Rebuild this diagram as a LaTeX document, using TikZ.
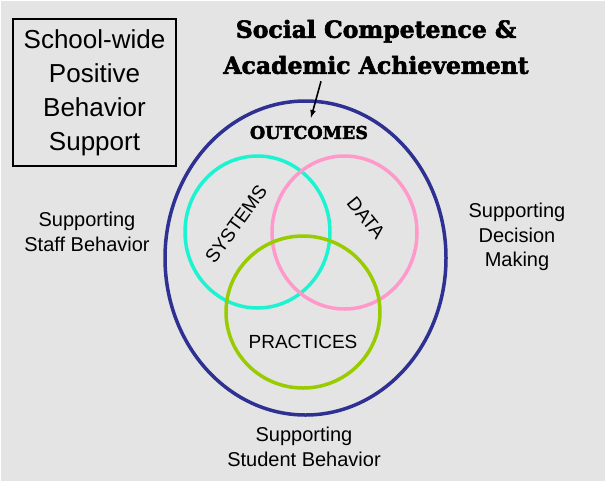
\documentclass[tikz,border=0pt]{standalone}
\usepackage{fontspec}
\setmainfont{Liberation Sans}
\newfontfamily\headfont{DejaVu Serif}[BoldFeatures={FakeBold=2.5}]
\usepackage{xcolor}
\usetikzlibrary{shapes.geometric}
\usetikzlibrary{arrows}

\definecolor{slate}{HTML}{E4E4E4}
\definecolor{navyring}{HTML}{2E3192}
\definecolor{tealring}{HTML}{1CF3D0}
\definecolor{pinkring}{HTML}{FF99CC}
\definecolor{limering}{HTML}{99CC00}

\begin{document}
\begin{tikzpicture} [
    x=1pt, y=-1pt,
    ring/.style    = { ellipse, draw, line width=3.5pt, inner sep=0pt },
    panel/.style   = { rectangle, draw, line width=2pt, align=center,
                       minimum width=163, minimum height=147, inner sep=0pt,
                       font=\fontsize{26}{34}\selectfont },
    heading/.style = { align=center, inner sep=0pt,
                       font=\headfont\bfseries\fontsize{23.5}{36}\selectfont },
    caption/.style = { align=center, inner sep=0pt,
                       font=\fontsize{20}{24.5}\selectfont },
    part/.style    = { inner sep=0pt, font=\fontsize{19}{22}\selectfont },
    pointer/.style = { draw, line width=1.6pt, -latex },
  ]
  \useasboundingbox (0,0) rectangle (610,485);
  \fill [slate] (1,1) rectangle (605,481);

  % title and program box
  \node [panel] (swpbs) at (94.5,92.5) {School-wide\\Positive\\Behavior\\Support};
  \node [heading] (title) at (376,47) {Social Competence \&\\Academic Achievement};

  % the big ring and the three overlapping ones
  \node [ring, draw=navyring, minimum width=281, minimum height=314] (outer) at (305.5,258) {};
  \node [ring, draw=tealring, minimum width=145, minimum height=152] (sysring) at (257.5,232) {};
  \node [ring, draw=pinkring, minimum width=145, minimum height=153] (dataring) at (344.5,232.5) {};
  \node [ring, draw=limering, minimum width=154, minimum height=152] (pracring) at (303,312) {};

  \node [heading, font=\headfont\bfseries\fontsize{17.5}{18}\selectfont] (outcomes) at (309,132.5) {OUTCOMES};
  \node [part, rotate=54]  (systems)   at (236,224) {SYSTEMS};
  \node [part, rotate=-51] (data)      at (366,218) {DATA};
  \node [part]             (practices) at (303,342) {PRACTICES};

  % side captions
  \node [caption] (staff)    at (87,232)  {Supporting\\Staff Behavior};
  \node [caption] (decision) at (517,237) {Supporting\\Decision\\Making};
  \node [caption] (student)  at (304,447) {Supporting\\Student Behavior};

  \path [pointer] ([shift={(-55,7)}]title.south) -- ([shift={(2,-8)}]outcomes.north);
\end{tikzpicture}
\end{document}
